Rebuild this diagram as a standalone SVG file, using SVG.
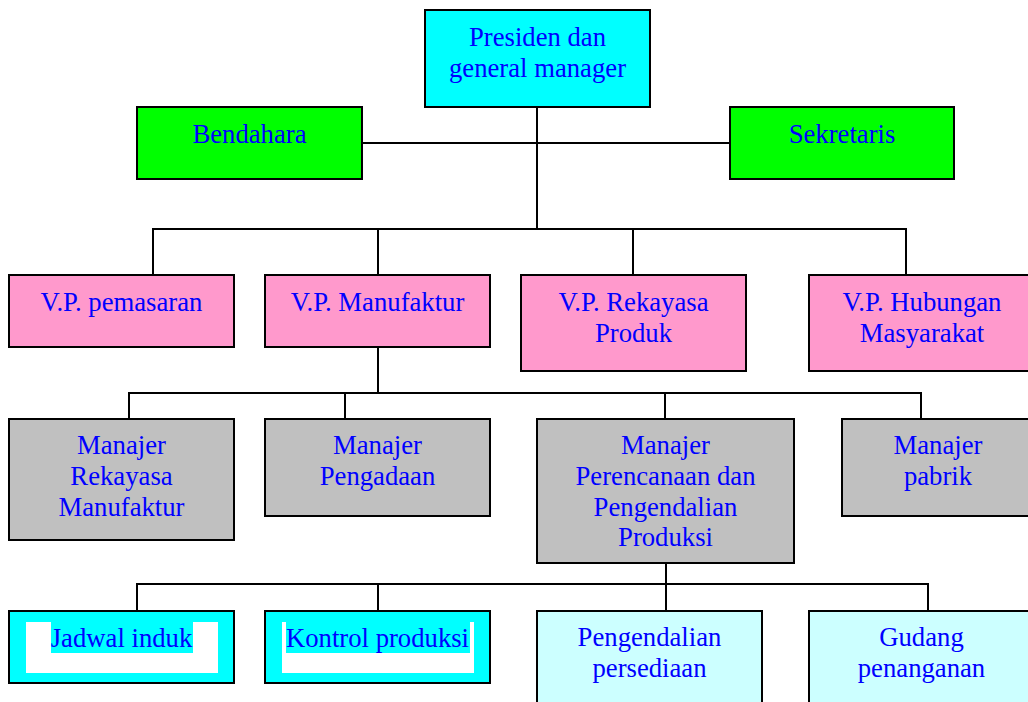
<svg xmlns="http://www.w3.org/2000/svg" width="1028" height="702" viewBox="0 0 1028 702">
  <style>
    .box { stroke: #000; stroke-width: 2; }
    .top { fill: #00FFFF; }
    .staff { fill: #00FF00; }
    .vp { fill: #FF99CC; }
    .mgr { fill: #C0C0C0; }
    .sub { fill: #CCFFFF; }
    .lbl { font-family: "Liberation Serif", "Times New Roman", serif; font-size: 26.7px; fill: #0000FF; text-anchor: middle; }
    .wire { fill: none; stroke: #000; stroke-width: 2; }
  </style>
  <rect width="1028" height="702" fill="#FFFFFF"/>

  <!-- connectors -->
  <g id="connectors">
    <path class="wire" d="M537 107 V229"/>
    <path class="wire" d="M362 143 H730"/>
    <path class="wire" d="M153 275 V229 H906 V275"/>
    <path class="wire" d="M378 229 V275"/>
    <path class="wire" d="M633 229 V275"/>
    <path class="wire" d="M378 347 V393"/>
    <path class="wire" d="M129 419 V393 H921 V419"/>
    <path class="wire" d="M345 393 V419"/>
    <path class="wire" d="M665 393 V419"/>
    <path class="wire" d="M666 563 V611"/>
    <path class="wire" d="M137 611 V584 H928 V611"/>
    <path class="wire" d="M378 584 V611"/>
  </g>

  <!-- top -->
  <g id="presiden">
    <rect class="box top" x="425" y="10" width="225" height="97"/>
    <text class="lbl" x="537.5" y="46">Presiden dan</text>
    <text class="lbl" x="537.5" y="77">general manager</text>
  </g>
  <g id="bendahara">
    <rect class="box staff" x="137" y="107" width="225" height="72"/>
    <text class="lbl" x="249.5" y="143">Bendahara</text>
  </g>
  <g id="sekretaris">
    <rect class="box staff" x="730" y="107" width="224" height="72"/>
    <text class="lbl" x="842" y="143">Sekretaris</text>
  </g>

  <!-- vice presidents -->
  <g id="vp-pemasaran">
    <rect class="box vp" x="9" y="275" width="225" height="72"/>
    <text class="lbl" x="121.5" y="311">V.P. pemasaran</text>
  </g>
  <g id="vp-manufaktur">
    <rect class="box vp" x="265" y="275" width="225" height="72"/>
    <text class="lbl" x="377.5" y="311">V.P. Manufaktur</text>
  </g>
  <g id="vp-rekayasa">
    <rect class="box vp" x="521" y="275" width="225" height="96"/>
    <text class="lbl" x="633.5" y="311">V.P. Rekayasa</text>
    <text class="lbl" x="633.5" y="342">Produk</text>
  </g>
  <g id="vp-hubungan">
    <rect class="box vp" x="809" y="275" width="225" height="96"/>
    <text class="lbl" x="922" y="311">V.P. Hubungan</text>
    <text class="lbl" x="922" y="342">Masyarakat</text>
  </g>

  <!-- managers -->
  <g id="mgr-rekayasa">
    <rect class="box mgr" x="9" y="419" width="225" height="121"/>
    <text class="lbl" x="121.5" y="454">Manajer</text>
    <text class="lbl" x="121.5" y="485">Rekayasa</text>
    <text class="lbl" x="121.5" y="516">Manufaktur</text>
  </g>
  <g id="mgr-pengadaan">
    <rect class="box mgr" x="265" y="419" width="225" height="97"/>
    <text class="lbl" x="377.5" y="454">Manajer</text>
    <text class="lbl" x="377.5" y="485">Pengadaan</text>
  </g>
  <g id="mgr-ppic">
    <rect class="box mgr" x="537" y="419" width="257" height="144"/>
    <text class="lbl" x="665.5" y="454">Manajer</text>
    <text class="lbl" x="665.5" y="485">Perencanaan dan</text>
    <text class="lbl" x="665.5" y="516">Pengendalian</text>
    <text class="lbl" x="665.5" y="546">Produksi</text>
  </g>
  <g id="mgr-pabrik">
    <rect class="box mgr" x="842" y="419" width="192" height="97"/>
    <text class="lbl" x="938" y="454">Manajer</text>
    <text class="lbl" x="938" y="485">pabrik</text>
  </g>

  <!-- production planning units -->
  <g id="jadwal-induk">
    <rect class="box top" x="9" y="611" width="225" height="72"/>
    <rect x="26" y="622" width="192" height="51" fill="#FFFFFF"/>
    <rect x="51" y="622" width="142" height="31" fill="#00FFFF"/>
    <text class="lbl" x="121.5" y="647">Jadwal induk</text>
  </g>
  <g id="kontrol-produksi">
    <rect class="box top" x="265" y="611" width="225" height="72"/>
    <rect x="282" y="622" width="192" height="51" fill="#FFFFFF"/>
    <rect x="286" y="622" width="184" height="31" fill="#00FFFF"/>
    <text class="lbl" x="377.5" y="647">Kontrol produksi</text>
  </g>
  <g id="pengendalian-persediaan">
    <rect class="box sub" x="537" y="611" width="225" height="97"/>
    <text class="lbl" x="649.5" y="646">Pengendalian</text>
    <text class="lbl" x="649.5" y="677">persediaan</text>
  </g>
  <g id="gudang-penanganan">
    <rect class="box sub" x="809" y="611" width="225" height="97"/>
    <text class="lbl" x="921.5" y="646">Gudang</text>
    <text class="lbl" x="921.5" y="677">penanganan</text>
  </g>
</svg>
